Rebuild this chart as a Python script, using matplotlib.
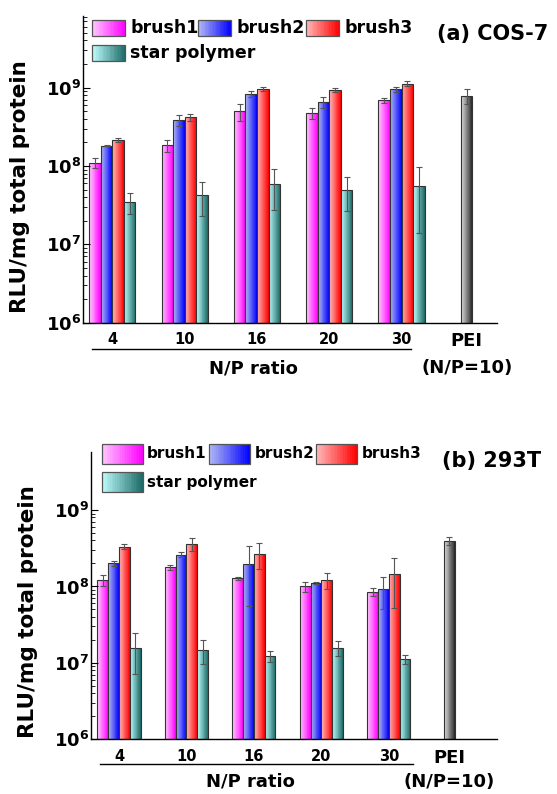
import numpy as np
import matplotlib
matplotlib.use('Agg')
import matplotlib.pyplot as plt
from matplotlib.colors import to_rgb
from matplotlib.patches import Rectangle
from matplotlib import ticker, transforms

plt.rcParams['font.family'] = ['DejaVu Sans']
plt.rcParams['font.weight'] = 'bold'
plt.rcParams['mathtext.default'] = 'bf'

W, H = 557, 794

ratios = ['4', '10', '16', '20', '30']
series = ['brush1', 'brush2', 'brush3', 'star polymer']

# (a) COS-7
cos_brush1 = [1.09e8, 1.83e8, 4.96e8, 4.73e8, 6.85e8]
cos_brush1_err = [0.16e8, 0.3e8, 1.2e8, 0.7e8, 0.5e8]
cos_brush2 = [1.82e8, 3.85e8, 8.3e8, 6.53e8, 9.55e8]
cos_brush2_err = [0.04e8, 0.6e8, 0.8e8, 1.0e8, 0.7e8]
cos_brush3 = [2.14e8, 4.17e8, 9.55e8, 9.35e8, 1.12e9]
cos_brush3_err = [0.13e8, 0.4e8, 0.6e8, 0.5e8, 0.8e8]
cos_star = [3.47e7, 4.27e7, 5.96e7, 4.94e7, 5.5e7]
cos_star_err = [1.0e7, 2.0e7, 3.2e7, 2.3e7, 4.1e7]
cos_pei = 7.87e8
cos_pei_err = 1.7e8

# (b) 293T
t293_brush1 = [1.2e8, 1.78e8, 1.28e8, 1.0e8, 8.47e7]
t293_brush1_err = [0.2e8, 0.12e8, 0.05e8, 0.16e8, 0.1e8]
t293_brush2 = [2.01e8, 2.6e8, 1.95e8, 1.1e8, 9.3e7]
t293_brush2_err = [0.15e8, 0.2e8, 1.4e8, 0.03e8, 0.42e8]
t293_brush3 = [3.32e8, 3.6e8, 2.69e8, 1.2e8, 1.44e8]
t293_brush3_err = [0.24e8, 0.65e8, 1.0e8, 0.28e8, 0.92e8]
t293_star = [1.58e7, 1.47e7, 1.24e7, 1.57e7, 1.13e7]
t293_star_err = [0.87e7, 0.5e7, 0.2e7, 0.35e7, 0.15e7]
t293_pei = 3.94e8
t293_pei_err = 0.45e8

# gradient (left, right) per series
grads = [('#ffccff', '#ff00ff'),
         ('#b4bcf2', '#0000ff'),
         ('#ffbcbc', '#ff0000'),
         ('#bfffff', '#1c6a66')]
pei_grad = ('#e4e4e4', '#262626')
edge = '#333333'
NSTRIP = 24
BASE = 1e6
w = 0.16
pei_x = 4.9


def mix(c0, c1, t):
    a, b = np.array(to_rgb(c0)), np.array(to_rgb(c1))
    return tuple(a + (b - a) * t)


def grad_bars(ax, x, h, c0, c1):
    x = np.asarray(x, float)
    h = np.asarray(h, float)
    for k in range(NSTRIP):
        t = (k + 0.5) / NSTRIP
        ax.bar(x - w / 2 + k * w / NSTRIP, h - BASE, width=w / NSTRIP, bottom=BASE,
               align='edge', color=mix(c0, c1, t), linewidth=0, antialiased=False)
    ax.bar(x, h - BASE, width=w, bottom=BASE, fill=False, edgecolor=edge, linewidth=0.8)


def fxy(px, py):
    return px / W, 1 - py / H


def legend_box(fig, px, py, pw, ph, c0, c1):
    for k in range(NSTRIP):
        t = (k + 0.5) / NSTRIP
        x0, y0 = fxy(px + k * pw / NSTRIP, py + ph / 2)
        fig.add_artist(Rectangle((x0, y0), pw / NSTRIP / W, ph / H, transform=fig.transFigure,
                                 facecolor=mix(c0, c1, t), linewidth=0, antialiased=False))
    x0, y0 = fxy(px, py + ph / 2)
    fig.add_artist(Rectangle((x0, y0), pw / W, ph / H, transform=fig.transFigure,
                             fill=False, edgecolor='#555555', linewidth=0.9))


def panel(ax, vals, errs, pei, pei_err, xlim, ytop, line_end, minor_top, lab_xy):
    xs = np.arange(len(ratios))
    for i, (v, e) in enumerate(zip(vals, errs)):
        xi = xs + (i - 1.5) * w
        grad_bars(ax, xi, v, *grads[i])
        ax.errorbar(xi, v, yerr=e, fmt='none', ecolor='#555555', elinewidth=0.8,
                    capsize=2.3, capthick=0.8)
    grad_bars(ax, [pei_x], [pei], *pei_grad)
    ax.errorbar([pei_x], [pei], yerr=[pei_err], fmt='none', ecolor='#555555',
                elinewidth=0.8, capsize=2.3, capthick=0.8)

    ax.set_yscale('log')
    ax.set_ylim(BASE, ytop)
    ax.set_xlim(*xlim)
    ax.yaxis.set_major_locator(ticker.FixedLocator([1e6, 1e7, 1e8, 1e9]))
    ax.yaxis.set_major_formatter(ticker.FuncFormatter(lambda v, p: r'$10^{%d}$' % round(np.log10(v))))
    minors = [m * 10 ** d for d in range(6, 10) for m in range(2, 10) if m * 10 ** d <= minor_top]
    ax.yaxis.set_minor_locator(ticker.FixedLocator(minors))
    ax.yaxis.set_minor_formatter(ticker.NullFormatter())
    ax.tick_params(axis='y', which='major', direction='in', length=5, width=0.8,
                   labelsize=13, pad=1)
    ax.tick_params(axis='y', which='minor', direction='in', length=3, width=0.6)
    ax.set_xticks(list(xs) + [pei_x])
    ax.set_xticklabels(ratios + ['PEI'])
    ax.tick_params(axis='x', length=0, labelsize=10.5, pad=7)
    ax.get_xticklabels()[-1].set_fontsize(13)
    for s in ['top', 'right']:
        ax.spines[s].set_visible(False)
    for s in ['left', 'bottom']:
        ax.spines[s].set_linewidth(1.0)
    ax.set_ylabel('RLU/mg total protein', fontsize=15.5, fontweight='bold')
    ax.yaxis.set_label_coords(*lab_xy)

    tr = transforms.blended_transform_factory(ax.transData, ax.transAxes)
    ax.plot([-0.28, line_end], [-0.086, -0.086], color='black', lw=1.0, transform=tr, clip_on=False)
    ax.text(1.95, -0.148, 'N/P ratio', transform=tr, ha='center', va='center', fontsize=13)
    ax.text(pei_x, -0.148, '(N/P=10)', transform=tr, ha='center', va='center', fontsize=13)


fig = plt.figure(figsize=(W / 100, H / 100), dpi=100)
ax1 = fig.add_axes([82.7 / W, 1 - 322.7 / H, 414.3 / W, 306.7 / H])
ax2 = fig.add_axes([90.7 / W, 1 - 739.3 / H, 406 / W, 287.6 / H])

panel(ax1, [cos_brush1, cos_brush2, cos_brush3, cos_star],
      [cos_brush1_err, cos_brush2_err, cos_brush3_err, cos_star_err],
      cos_pei, cos_pei_err, (-0.41, 5.32), 8.2e9, 4.13, 9e9, (-0.128, 0.443))
panel(ax2, [t293_brush1, t293_brush2, t293_brush3, t293_star],
      [t293_brush1_err, t293_brush2_err, t293_brush3_err, t293_star_err],
      t293_pei, t293_pei_err, (-0.42, 5.6), 5.8e9, 4.36, 1e9, (-0.13, 0.443))

# legends (hand-drawn gradient boxes)
top_rows = [(92, 28, 130), (198, 28, 237), (306, 28, 345), (92, 53, 130)]
for (px, py, tx), lab, g in zip(top_rows, series, grads):
    legend_box(fig, px, py, 33, 15, *g)
    fig.text(*fxy(tx, py), lab, ha='left', va='center', fontsize=12.5)

bot_rows = [(101.5, 453.5, 147), (209, 453.5, 255), (316, 453.5, 362), (101.5, 482, 147)]
for (px, py, tx), lab, g in zip(bot_rows, series, grads):
    legend_box(fig, px, py, 41, 20, *g)
    fig.text(*fxy(tx, py), lab, ha='left', va='center', fontsize=11)

fig.text(*fxy(548, 34), '(a) COS-7', ha='right', va='center', fontsize=15)
fig.text(*fxy(541, 461), '(b) 293T', ha='right', va='center', fontsize=15)

fig.savefig('out.png', dpi=100)
